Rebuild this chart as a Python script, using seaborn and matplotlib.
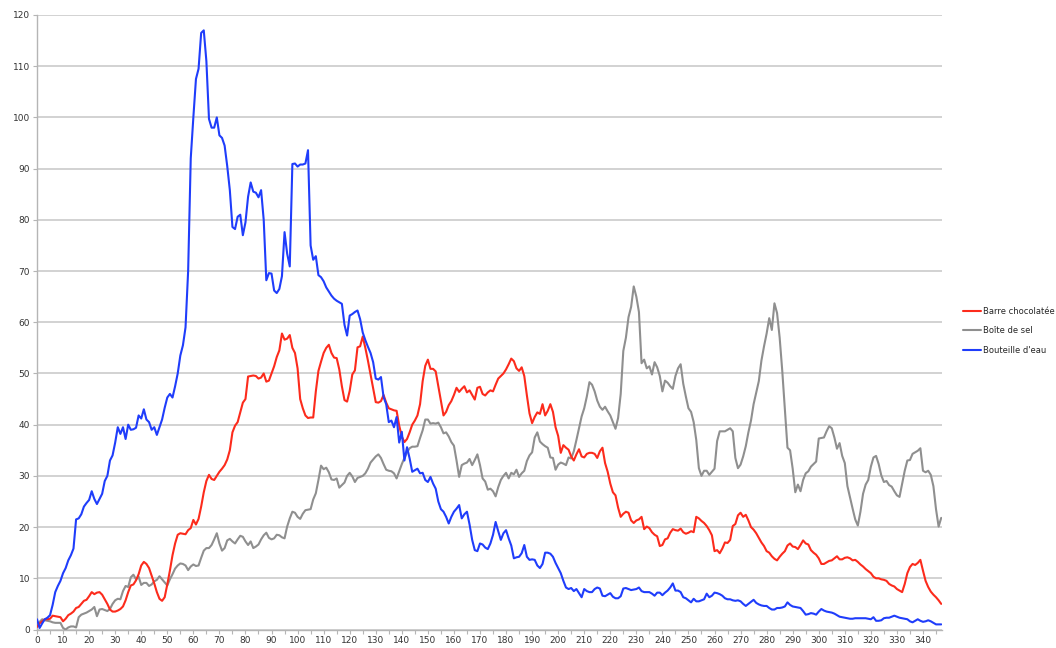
import numpy as np
import pandas as pd
import matplotlib
matplotlib.use("Agg")
import matplotlib.pyplot as plt
import seaborn as sns

series_names = ["Barre chocolatée", "Boîte de sel", "Bouteille d'eau"]

barre = [
    0.5, 1.2, 1.6, 2.0, 2.0, 2.1, 2.7, 2.6, 2.5, 2.4,
    1.6, 2.1, 2.8, 3.1, 3.5, 4.2, 4.4, 5.0, 5.6, 5.8,
    6.5, 7.3, 6.9, 7.2, 7.3, 6.8, 5.9, 5.0, 3.9, 3.5,
    3.5, 3.7, 4.0, 4.5, 5.7, 7.3, 8.6, 8.8, 9.6, 10.8,
    12.5, 13.2, 12.8, 12.0, 10.5, 9.0, 7.3, 6.0, 5.6, 6.3,
    8.8, 11.5, 14.5, 16.8, 18.5, 18.8, 18.7, 18.6, 19.4, 19.8,
    21.4, 20.5, 21.6, 24.0, 26.8, 29.0, 30.2, 29.4, 29.2, 30.0,
    30.8, 31.4, 32.1, 33.2, 35.0, 38.5, 39.8, 40.5, 42.4, 44.3,
    45.0, 49.4, 49.5, 49.6, 49.5, 49.0, 49.2, 50.0, 48.4, 48.6,
    50.0, 51.4, 53.2, 54.5, 57.8, 56.6, 56.8, 57.5, 55.0, 54.0,
    51.0, 45.0, 43.2, 41.8, 41.3, 41.4, 41.4, 46.5, 50.5, 52.3,
    54.0, 55.0, 55.6, 54.0, 53.1, 53.0, 50.8, 47.5, 44.8, 44.5,
    46.6, 49.8, 50.6, 55.1, 55.3, 57.2, 55.0, 52.5, 49.8, 47.0,
    44.4, 44.3, 44.6, 45.8, 44.3, 43.2, 43.0, 42.8, 42.7, 39.8,
    37.7, 36.6, 37.2, 38.5, 40.0, 40.8, 41.8, 44.0, 48.5, 51.5,
    52.7, 50.9, 50.9, 50.4, 47.5, 44.5, 41.8, 42.5, 43.8, 44.6,
    45.8, 47.2, 46.4, 47.0, 47.5, 46.3, 46.7, 45.8, 44.9, 47.2,
    47.4, 46.0, 45.7, 46.3, 46.7, 46.5, 47.8, 49.0, 49.5, 50.0,
    50.8, 51.8, 52.9, 52.4, 51.0, 50.5, 51.2, 49.5, 45.7, 42.2,
    40.3, 41.5, 42.4, 42.1, 44.0, 41.8, 42.7, 44.0, 42.5, 39.5,
    37.8, 34.5, 36.0, 35.5, 35.1, 33.8, 33.0, 34.2, 35.2, 33.8,
    33.6, 34.3, 34.5, 34.5, 34.3, 33.5, 34.8, 35.5, 32.5, 30.8,
    28.5, 26.8, 26.2, 23.8, 22.0, 22.6, 23.0, 22.8, 21.3, 20.8,
    21.3, 21.5, 22.0, 19.6, 20.1, 19.8, 19.0, 18.5, 18.2, 16.3,
    16.5, 17.6, 17.8, 18.9, 19.6, 19.4, 19.3, 19.7, 19.0, 18.7,
    18.9, 19.2, 19.0, 22.0, 21.7, 21.2, 20.8, 20.2, 19.4, 18.4,
    15.3, 15.5, 14.9, 15.8, 17.0, 16.9, 17.5, 20.2, 20.6, 22.3,
    22.8, 22.0, 22.4, 21.3, 20.0, 19.5, 18.8, 17.9, 17.0, 16.3,
    15.3, 15.0, 14.3, 13.8, 13.5, 14.2, 14.8, 15.3, 16.4, 16.8,
    16.2, 16.1, 15.7, 16.5, 17.4, 16.8, 16.6, 15.5, 15.0, 14.6,
    13.9, 12.8, 12.8, 13.1, 13.4, 13.5, 13.9, 14.3, 13.7, 13.7,
    14.0, 14.1, 13.9, 13.5, 13.6, 13.2, 12.7, 12.3, 11.8, 11.4,
    11.0, 10.3, 10.0, 10.0, 9.8, 9.7, 9.5, 8.9, 8.6, 8.4,
    7.9, 7.6, 7.3, 8.9, 11.0, 12.2, 12.8, 12.6, 13.0, 13.6,
    11.5, 9.5, 8.3, 7.4, 6.8, 6.3, 5.7, 5.0,
]

boite = [
    1.0, 1.5, 2.0, 1.8, 1.7, 1.6, 1.4, 1.3, 1.3, 1.3,
    0.3, 0.0, 0.4, 0.6, 0.6, 0.4, 2.4, 2.9, 3.1, 3.3,
    3.6, 3.9, 4.4, 2.6, 3.9, 4.0, 3.8, 3.6, 4.0, 5.0,
    5.7, 6.0, 5.9, 7.5, 8.5, 8.3, 10.2, 10.7, 9.8, 10.3,
    8.7, 9.1, 9.1, 8.5, 8.8, 9.4, 9.7, 10.4, 9.8, 9.2,
    8.6, 9.8, 10.8, 11.9, 12.5, 12.9, 12.8, 12.5, 11.6, 12.3,
    12.7, 12.4, 12.5, 14.0, 15.4, 15.9, 15.9, 16.5, 17.6, 18.8,
    16.8, 15.4, 15.9, 17.4, 17.7, 17.2, 16.8, 17.6, 18.3, 18.1,
    17.2, 16.5, 17.2, 15.9, 16.2, 16.6, 17.6, 18.4, 18.9, 17.9,
    17.6, 17.8, 18.5, 18.4, 18.0, 17.8, 20.1, 21.7, 23.0, 22.8,
    22.0, 21.6, 22.6, 23.3, 23.4, 23.5, 25.4, 26.6, 29.2, 32.0,
    31.3, 31.6, 30.7, 29.3, 29.2, 29.5, 27.7, 28.2, 28.7, 30.0,
    30.6, 29.9, 28.8, 29.6, 29.8, 30.0, 30.5, 31.4, 32.6, 33.2,
    33.8, 34.2, 33.5, 32.3, 31.2, 31.0, 30.9, 30.5, 29.5, 30.9,
    32.3, 33.5, 34.6, 35.4, 35.7, 35.7, 35.8, 37.4, 38.9, 41.0,
    41.0, 40.2, 40.3, 40.2, 40.4, 39.5, 38.3, 38.5, 37.7, 36.6,
    35.9, 33.0, 29.8, 32.1, 32.4, 32.6, 33.3, 32.1, 33.1, 34.2,
    32.1, 29.5, 28.9, 27.3, 27.5, 27.0, 26.0, 27.8, 29.2, 30.0,
    30.6, 29.5, 30.6, 30.3, 31.2, 29.8, 30.5, 31.0, 32.9, 34.0,
    34.6, 37.5, 38.5, 36.7, 36.2, 35.8, 35.5, 33.6, 33.5, 31.2,
    32.2, 32.6, 32.4, 32.1, 33.6, 33.4, 34.8, 37.0, 39.3, 41.6,
    43.2, 45.5, 48.3, 47.8, 46.5, 44.7, 43.5, 42.9, 43.5, 42.6,
    41.8, 40.5, 39.2, 41.3, 46.0, 54.4, 57.0, 61.0, 63.0, 67.0,
    65.0, 62.0, 52.0, 52.7, 51.0, 51.4, 49.8, 52.2, 51.2, 49.5,
    46.5, 48.6, 48.2, 47.5, 47.0, 49.5, 51.0, 51.8, 48.0, 45.5,
    43.2, 42.5, 40.5, 37.0, 31.5, 30.0, 31.0, 31.0, 30.2, 30.8,
    31.4, 36.8, 38.7, 38.7, 38.7, 39.0, 39.3, 38.7, 33.5, 31.5,
    32.2, 33.8, 35.8, 38.5, 40.8, 44.0, 46.3, 48.5, 52.5, 55.3,
    57.8, 60.8, 58.5, 63.7, 61.8, 57.0, 50.5, 43.0, 35.5, 35.0,
    31.4, 26.8, 28.3, 27.0, 29.2, 30.5, 30.9, 31.8, 32.3, 32.8,
    37.3, 37.4, 37.5, 38.7, 39.7, 39.3, 37.5, 35.3, 36.4, 33.9,
    32.5, 28.0, 25.8, 23.6, 21.5, 20.3, 23.0, 26.5, 28.3, 29.2,
    31.8, 33.6, 33.9, 32.3, 30.1, 28.8, 29.0, 28.2, 27.9, 27.0,
    26.2, 25.9, 28.5, 31.0, 33.0, 33.1, 34.3, 34.6, 34.9, 35.4,
    31.0, 30.7, 31.0, 30.2, 28.0, 23.5, 20.1, 21.8,
]

bouteille = [
    2.0, 0.3, 1.2, 2.0, 2.3, 2.8, 4.8, 7.3, 8.5, 9.5,
    11.0, 12.0, 13.5, 14.5, 15.8, 21.5, 21.7, 22.5, 24.0, 24.7,
    25.3, 27.0, 25.5, 24.5, 25.5, 26.5, 29.0, 30.0, 33.0, 34.0,
    36.5, 39.5, 38.2, 39.5, 37.2, 40.0, 39.0, 39.1, 39.4, 41.8,
    41.2, 43.0, 41.0, 40.5, 39.0, 39.5, 38.0, 39.5, 41.0, 43.3,
    45.3, 46.0, 45.3, 47.5, 50.0, 53.5, 55.5, 59.0, 70.0, 92.0,
    100.0, 107.5, 109.5, 116.5, 117.0, 111.0, 99.7, 98.0, 98.0, 100.0,
    96.5, 96.0, 94.5, 90.5, 85.8, 78.6, 78.2, 80.6, 81.0, 77.0,
    79.5, 84.5, 87.3, 85.5, 85.3, 84.4, 85.8, 80.0, 68.2, 69.6,
    69.5, 66.2, 65.7, 66.5, 69.0, 77.6, 73.4, 70.9, 90.9, 91.0,
    90.4, 90.8, 90.8, 91.0, 93.6, 75.0, 72.2, 72.9, 69.2, 68.8,
    68.0, 66.8, 66.0, 65.2, 64.6, 64.2, 63.9, 63.6, 59.5, 57.4,
    61.3, 61.6, 62.0, 62.3, 60.6, 58.0, 56.5, 55.2, 54.0, 52.2,
    49.0, 48.8, 49.3, 45.4, 44.0, 40.5, 40.8, 39.5, 41.5, 36.5,
    38.6, 33.0, 35.6, 33.4, 30.8, 31.1, 31.4, 30.5, 30.6, 29.2,
    28.8, 29.8, 28.5, 27.5, 25.0, 23.5, 23.0, 22.0, 20.7, 22.0,
    23.0, 23.6, 24.3, 21.7, 22.5, 23.0, 20.5, 17.5, 15.5, 15.3,
    16.8, 16.6, 16.0, 15.7, 16.8, 18.5, 21.0, 19.2, 17.5, 18.8,
    19.4, 17.8, 16.4, 13.9, 14.1, 14.2, 14.9, 16.5, 14.2, 13.6,
    13.7, 13.6, 12.5, 12.0, 12.8, 15.0, 15.0, 14.8, 14.2, 13.0,
    12.0, 11.0, 9.5, 8.2, 7.9, 8.1, 7.5, 7.9, 7.1, 6.3,
    7.9, 7.5, 7.3, 7.3, 7.9, 8.2, 8.0, 6.6, 6.5, 6.8,
    7.1, 6.4, 6.1, 6.1, 6.5, 8.0, 8.1, 7.9, 7.7, 7.8,
    7.9, 8.2, 7.5, 7.3, 7.3, 7.3, 7.0, 6.6, 7.2, 7.2,
    6.7, 7.2, 7.6, 8.2, 9.0, 7.6, 7.6, 7.3, 6.3, 6.1,
    5.7, 5.3, 6.0, 5.5, 5.5, 5.7, 5.9, 7.0, 6.3, 6.6,
    7.2, 7.1, 6.9, 6.6, 6.1, 5.9, 5.9, 5.7, 5.6, 5.7,
    5.5, 5.0, 4.6, 5.0, 5.4, 5.8, 5.2, 4.9, 4.7, 4.6,
    4.6, 4.2, 3.9, 3.9, 4.2, 4.2, 4.3, 4.5, 5.3, 4.8,
    4.5, 4.4, 4.3, 4.2, 3.6, 2.9, 3.0, 3.2, 3.1, 2.9,
    3.5, 4.0, 3.7, 3.5, 3.4, 3.3, 3.1, 2.8, 2.5, 2.4,
    2.3, 2.2, 2.1, 2.1, 2.2, 2.2, 2.2, 2.2, 2.2, 2.1,
    2.0, 2.4, 1.7, 1.7, 1.8, 2.2, 2.3, 2.3, 2.5, 2.7,
    2.5, 2.3, 2.2, 2.1, 2.0, 1.6, 1.4, 1.7, 2.0, 1.7,
    1.5, 1.6, 1.8, 1.6, 1.3, 1.0, 1.0, 1.0,
]

y_ticks = list(range(0, 121, 10))
x_ticks = list(range(0, 341, 10))

colors = {"Barre chocolatée": "#fc2b1c",
          "Boîte de sel": "#8f8f8f",
          "Bouteille d'eau": "#1f3dfb"}

sns.set_style("white")
plt.rcParams['font.family'] = ['DejaVu Sans']

fig = plt.figure(figsize=(10.56, 6.48), dpi=100)
ax = fig.add_axes([37 / 1056, 1 - 629.5 / 648, (942 - 37) / 1056, (629.5 - 15) / 648])

frames = []
for name, vals in zip(series_names, [barre, boite, bouteille]):
    frames.append(pd.DataFrame({"x": np.arange(len(vals)), "y": vals, "serie": name}))
df = pd.concat(frames, ignore_index=True)

draw_order = ["Boîte de sel", "Barre chocolatée", "Bouteille d'eau"]
for z, name in enumerate(draw_order):
    sub = df[df["serie"] == name]
    sns.lineplot(data=sub, x="x", y="y", ax=ax, color=colors[name], lw=1.5,
                 estimator=None, label=name, zorder=3 + z)

n_max = max(len(barre), len(boite), len(bouteille)) - 1
ax.set_xlim(0, n_max + 0.3)
ax.set_ylim(0, 120)
ax.set_yticks(y_ticks)
ax.set_xticks(x_ticks)
ax.set_xticks(list(range(0, n_max + 1, 5)), minor=True)
ax.set_xlabel("")
ax.set_ylabel("")

ax.yaxis.grid(True, color="#d2d2d2", lw=1.4, zorder=0)
ax.xaxis.grid(False)
ax.set_axisbelow(True)
for s in ["top", "right"]:
    ax.spines[s].set_visible(False)
for s in ["left", "bottom"]:
    ax.spines[s].set_color("#b5b5b5")
    ax.spines[s].set_linewidth(1.0)

ax.tick_params(axis="y", which="major", length=3, width=0.8, color="#b5b5b5",
               labelsize=6.5, labelcolor="#333333", pad=2, left=True)
ax.tick_params(axis="x", which="both", length=3, width=0.8, color="#b5b5b5",
               labelsize=6.5, labelcolor="#333333", pad=2, bottom=True, direction="out")
ax.tick_params(axis="x", which="minor", labelbottom=False)

handles, labels = ax.get_legend_handles_labels()
order = [labels.index(n) for n in series_names]
ax.legend([handles[i] for i in order], [labels[i] for i in order],
          loc="center left", bbox_to_anchor=(963 / 1056, 1 - 330.7 / 648),
          bbox_transform=fig.transFigure, frameon=False, fontsize=6,
          handlelength=2.2, handletextpad=0.2, labelspacing=1.25,
          borderpad=0, borderaxespad=0)

fig.savefig("out.png", dpi=100)
